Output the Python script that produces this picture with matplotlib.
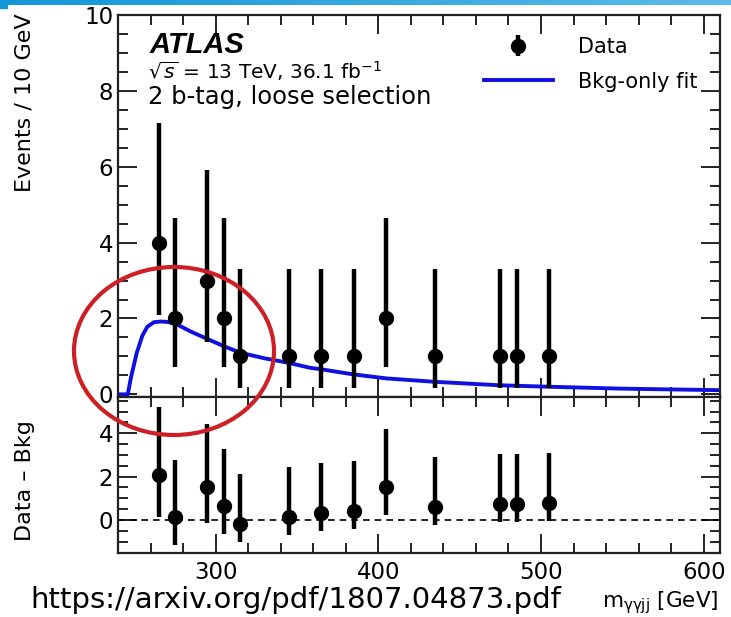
import matplotlib
matplotlib.use("Agg")
import matplotlib.pyplot as plt
from matplotlib.patches import Ellipse, Rectangle
from matplotlib.ticker import MultipleLocator
from matplotlib.colors import LinearSegmentedColormap
import numpy as np

plt.rcParams['font.family'] = ['DejaVu Sans']
plt.rcParams['mathtext.fontset'] = 'dejavusans'

# data points (bin centres, 10 GeV bins)
mass = [265, 275, 295, 305, 315, 345, 365, 385, 405, 435, 475, 485, 505]
events = [4, 2, 3, 2, 1, 1, 1, 1, 2, 1, 1, 1, 1]
err_lo = [1.91, 1.29, 1.63, 1.29, 0.83, 0.83, 0.83, 0.83, 1.29, 0.83, 0.83, 0.83, 0.83]
err_hi = [3.16, 2.64, 2.92, 2.64, 2.30, 2.30, 2.30, 2.30, 2.64, 2.30, 2.30, 2.30, 2.30]

# data - bkg residuals
resid = [2.07, 0.12, 1.5, 0.64, -0.2, 0.15, 0.34, 0.43, 1.54, 0.61, 0.72, 0.73, 0.77]

# background-only fit curve
fit_x = [240, 246, 248, 251.5, 255, 258, 262, 266, 270, 275, 285, 296, 305,
         315, 330, 345, 358, 365, 384, 405, 435, 474, 505, 550, 580, 610]
fit_y = [0, 0, 0.45, 1.09, 1.55, 1.78, 1.9, 1.92, 1.91, 1.87, 1.65, 1.44, 1.27,
         1.1, 0.95, 0.83, 0.70, 0.66, 0.53, 0.42, 0.33, 0.24, 0.2, 0.15, 0.13, 0.11]

W, H = 731.0, 617.0
fig = plt.figure(figsize=(W / 100, H / 100), dpi=100)


def fx(px):
    return px / W


def fy(py):
    # pixel row from top -> figure fraction
    return 1 - py / H


left, right = 118, 720
ax1 = fig.add_axes([fx(left), fy(397), (right - left) / W, (397 - 15) / H])
ax2 = fig.add_axes([fx(left), fy(553), (right - left) / W, (553 - 397) / H])


def style(ax):
    ax.set_xlim(240, 610)
    ax.xaxis.set_major_locator(MultipleLocator(100))
    ax.xaxis.set_minor_locator(MultipleLocator(20))
    ax.yaxis.set_minor_locator(MultipleLocator(0.5))
    ax.tick_params(which='both', direction='in', top=True, right=True,
                   width=1.4, labelsize=16.5, color='#222222')
    ax.tick_params(which='major', length=14)
    ax.tick_params(which='minor', length=7)
    for s in ax.spines.values():
        s.set_linewidth(1.6)
        s.set_color('#222222')


style(ax1)
style(ax2)

# upper panel
ax1.plot(fit_x, fit_y, color='#1010e0', lw=2.8, label='Bkg-only fit', zorder=2)
ax1.errorbar(mass, events, yerr=[err_lo, err_hi], fmt='o', color='black',
             ms=10, elinewidth=3.2, capsize=0, label='Data', zorder=3)
ax1.set_ylim(-0.07, 10)
ax1.yaxis.set_major_locator(MultipleLocator(2))
ax1.tick_params(labelbottom=False)

h, l = ax1.get_legend_handles_labels()
fig.legend([h[1], h[0]], [l[1], l[0]], loc='upper left',
           bbox_to_anchor=(fx(484), fy(37)), frameon=False, fontsize=15,
           handlelength=3.3, labelspacing=0.7, handletextpad=1.2,
           borderpad=0, borderaxespad=0)

fig.text(fx(150), fy(45), 'ATLAS', fontsize=21, fontweight='bold',
         fontstyle='italic', family='Liberation Sans', va='center')
fig.text(fx(148), fy(71), r'$\sqrt{s}$ = 13 TeV, 36.1 fb$^{-1}$',
         fontsize=14.5, va='center')
fig.text(fx(148), fy(97), '2 b-tag, loose selection', fontsize=17.5,
         va='center')

# lower panel
ax2.errorbar(mass, resid, yerr=[err_lo, err_hi], fmt='o', color='black',
             ms=10, elinewidth=3.2, capsize=0, zorder=3)
ax2.axhline(0, color='black', lw=1.2, ls=(0, (4, 3)))
ax2.set_ylim(-1.52, 5.67)
ax2.set_yticks([0, 2, 4])
ax2.tick_params(axis='x', pad=6)

fig.text(fx(25), fy(13), 'Events / 10 GeV', rotation=90, fontsize=16,
         ha='center', va='top')
fig.text(fx(25), fy(420), 'Data \u2013 Bkg', rotation=90, fontsize=16,
         ha='center', va='top')
fig.text(fx(718), fy(603), r'm$_{\mathregular{\gamma\gamma jj}}$ [GeV]',
         fontsize=15.5, ha='right', va='center')
fig.text(fx(30), fy(600), 'https://arxiv.org/pdf/1807.04873.pdf',
         fontsize=21, ha='left', va='center')

# red ellipse annotation
ell = Ellipse((174, H - 351), 200, 168, fill=False, edgecolor='#cc2026',
              lw=3, transform=None, zorder=10)
fig.patches.append(ell)

# blue header strip
bar = fig.add_axes([0, fy(5), 1, 5 / H])
grad = np.linspace(0, 1, 256).reshape(1, -1)
cmap = LinearSegmentedColormap.from_list('hdr', ['#1396d8', '#5bbbe9'])
bar.imshow(grad, aspect='auto', cmap=cmap)
bar.axis('off')
fig.patches.append(Rectangle((0, H - 8), 7, 8, color='#1396d8',
                             transform=None, zorder=5))

fig.savefig('out.png', dpi=100)
